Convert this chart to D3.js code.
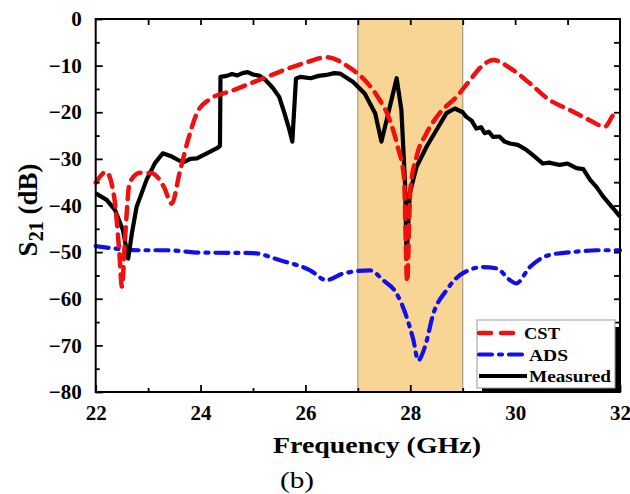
<!DOCTYPE html>
<html>
<head>
<meta charset="utf-8">
<script src="https://cdn.jsdelivr.net/npm/d3@7"></script>
<style>
  body { margin:0; background:#fff; }
</style>
</head>
<body>
<svg></svg>
<script>
// CST simulation
var cstF = [22.0,22.2,22.35,22.45,22.5,22.56,22.65,22.85,23.07,23.3,23.45,23.6,23.76,23.93,24.15,24.62,25.2,25.7,26.1,26.4,26.85,27.13,27.38,27.61,27.76,27.88,27.94,28.0,28.12,28.31,28.56,28.88,29.14,29.33,29.58,29.9,30.28,30.66,31.04,31.42,31.71,31.87,31.92];
var cstV = [-35.1,-32.8,-38,-50,-57.4,-47,-35,-33,-33.1,-36,-39.6,-33,-26,-20.2,-17.4,-15.3,-12.7,-10.5,-9.0,-8.2,-10.5,-13.1,-16.7,-21.7,-27.4,-34,-56.4,-36.7,-29.5,-24.5,-20.2,-16.7,-13.1,-10.5,-8.8,-10.5,-13.8,-17.4,-19.5,-21.7,-23.1,-20.6,-20.0];

// ADS simulation
var adsF = [22.0,22.85,23.35,24.0,25.0,25.5,26.09,26.4,26.72,27.23,27.48,27.74,27.93,28.06,28.15,28.28,28.44,28.69,28.95,29.39,29.65,29.9,30.02,30.28,30.66,31.17,31.55,32.0];
var adsV = [-48.7,-49.6,-49.6,-50.1,-50.2,-51.7,-53.9,-56,-54.6,-53.9,-56,-58.9,-63.9,-68.9,-73.2,-70.3,-63.2,-58.2,-54.9,-53.2,-53.5,-56,-56.7,-53.2,-50.6,-49.9,-49.6,-49.6];

// measured
var measF = [22.0,22.21,22.37,22.52,22.62,22.69,22.78,22.97,23.13,23.28,23.45,23.6,23.7,23.8,23.93,24.12,24.33,24.37,24.38,24.5,24.6,24.7,24.8,24.9,25.0,25.13,25.25,25.38,25.5,25.6,25.7,25.75,25.82,25.9,26.1,26.25,26.4,26.55,26.66,26.91,27.13,27.33,27.45,27.61,27.74,27.83,27.9,27.93,27.99,28.12,28.31,28.5,28.69,28.85,29.0,29.07,29.17,29.26,29.35,29.42,29.5,29.58,29.7,29.8,29.9,30.05,30.22,30.35,30.53,30.65,30.85,31.0,31.17,31.3,31.43,31.55,31.68,31.87,32.0];
var measV = [-37.4,-38.8,-41,-45.3,-51.4,-46,-40.3,-34.5,-30.9,-28.8,-29.5,-30.4,-30.6,-30.0,-29.9,-28.8,-27.6,-27.2,-12.4,-12.2,-11.8,-12.1,-11.6,-11.4,-11.9,-12.2,-13.2,-14.8,-16.7,-20.2,-24,-26.3,-12.8,-12.4,-12.7,-12.2,-12.0,-11.6,-11.7,-13.5,-16,-20.2,-26.3,-18.8,-12.7,-19.5,-35.2,-51.4,-37.4,-31.7,-27.4,-23.8,-20.2,-19.2,-20.0,-21,-21.8,-23.5,-23.2,-24.5,-24.2,-25.3,-25.2,-26.3,-26.7,-27.0,-28.1,-29.3,-31,-30.8,-31.3,-31.0,-32,-32.2,-34.5,-36.0,-38.1,-40.6,-42.4];

var band = [27, 29];
var xTicks = [22,24,26,28,30,32];
var yTicks = [0,-10,-20,-30,-40,-50,-60,-70,-80];
var legendNames = ["CST","ADS","Measured"];

var serif = "Liberation Serif, Times New Roman, serif";

var screen = { width:630, height:494 };
var margins = { top:19, bottom:102, left:95.7, right:10 };
var width = screen.width - margins.left - margins.right;
var height = screen.height - margins.top - margins.bottom;

var svg = d3.select("svg")
            .attr("width",screen.width)
            .attr("height",screen.height);

var xScale = d3.scaleLinear().domain([22,32]).range([0,width]);
var yScale = d3.scaleLinear().domain([-80,0]).range([height,0]);

var plot = svg.append("g")
              .attr("transform","translate("+margins.left+","+margins.top+")");

// shaded band
plot.append("rect")
    .attr("x",xScale(band[0]))
    .attr("y",0)
    .attr("width",xScale(band[1])-xScale(band[0]))
    .attr("height",height)
    .attr("fill","#f8d595")
    .attr("stroke","#a89a86")
    .attr("stroke-width",1.2);

var zip = function(f,v) { return f.map(function(d,i) { return [d,v[i]]; }); };

var smooth = d3.line()
               .x(function(d) {return xScale(d[0])})
               .y(function(d) {return yScale(d[1])})
               .curve(d3.curveMonotoneX);
var straight = d3.line()
                 .x(function(d) {return xScale(d[0])})
                 .y(function(d) {return yScale(d[1])});

var styles = {
  CST: { color:"#f01010", dash:"12,8", w:4.5 },
  ADS: { color:"#1010ee", dash:"13,7,3,7", w:4.2 },
  Measured: { color:"#000", dash:null, w:4.2 }
};

plot.append("path")
    .attr("d",smooth(zip(adsF,adsV)))
    .attr("fill","none")
    .attr("stroke",styles.ADS.color)
    .attr("stroke-width",styles.ADS.w)
    .attr("stroke-dasharray",styles.ADS.dash)
    .attr("stroke-linecap","round");

plot.append("path")
    .attr("d",straight(zip(measF,measV)))
    .attr("fill","none")
    .attr("stroke",styles.Measured.color)
    .attr("stroke-width",styles.Measured.w)
    .attr("stroke-linejoin","round");

plot.append("path")
    .attr("d",smooth(zip(cstF,cstV)))
    .attr("fill","none")
    .attr("stroke",styles.CST.color)
    .attr("stroke-width",styles.CST.w)
    .attr("stroke-dasharray",styles.CST.dash)
    .attr("stroke-linecap","round");

// axes, ticks point inward
var styleAxis = function(g) {
  g.attr("font-family",serif);
  g.select(".domain").remove();
  g.selectAll(".tick line").attr("stroke","#000").attr("stroke-width",1.8);
  g.selectAll("text")
   .attr("font-family",serif)
   .attr("font-size","21px")
   .attr("font-weight","bold")
   .attr("fill","#000");
};

plot.append("g")
    .attr("transform","translate(0,"+height+")")
    .call(d3.axisBottom(xScale).tickValues(xTicks).tickSize(-7).tickPadding(13).tickFormat(d3.format("d")))
    .call(styleAxis);
plot.append("g")
    .attr("transform","translate(0,"+height+")")
    .call(d3.axisBottom(xScale).tickValues([23,25,27,29,31]).tickSize(-4).tickFormat(""))
    .call(styleAxis);
plot.append("g")
    .call(d3.axisTop(xScale).tickValues(d3.range(23,32,1)).tickSize(-6).tickFormat(""))
    .call(styleAxis);

plot.append("g")
    .call(d3.axisLeft(yScale).tickValues(yTicks).tickSize(-7).tickPadding(14).tickFormat(d3.format("d")))
    .call(styleAxis);
plot.append("g")
    .call(d3.axisLeft(yScale).tickValues(d3.range(-75,0,10)).tickSize(-4).tickFormat(""))
    .call(styleAxis);
plot.append("g")
    .attr("transform","translate("+width+",0)")
    .call(d3.axisRight(yScale).tickValues(d3.range(-75,0,5)).tickSize(-6).tickFormat(""))
    .call(styleAxis);

plot.append("rect")
    .attr("width",width)
    .attr("height",height)
    .attr("fill","none")
    .attr("stroke","#000")
    .attr("stroke-width",2);

// legend
var legend = plot.append("g")
                 .attr("transform","translate("+(width-143)+","+(height-72)+")");
legend.append("rect")
      .attr("x",5).attr("y",7)
      .attr("width",138).attr("height",65)
      .attr("fill","#000");
legend.append("rect")
      .attr("x",0).attr("y",0)
      .attr("width",138).attr("height",68)
      .attr("fill","#fff")
      .attr("stroke","#999")
      .attr("stroke-width",1);

var legendLines = legend.selectAll("g.item")
                        .data(legendNames)
                        .enter()
                        .append("g")
                        .attr("transform",function(d,i) {return "translate(0,"+(13+i*21.5)+")"});
legendLines.append("line")
           .attr("x1",2).attr("x2",function(d) {return d=="CST" ? 38 : 50})
           .attr("y1",0).attr("y2",0)
           .attr("stroke",function(d) {return styles[d].color})
           .attr("stroke-width",function(d) {return styles[d].w})
           .attr("stroke-dasharray",function(d) {return d=="CST" ? "12,10" : (d=="ADS" ? "13,7,3,7" : null)})
           .attr("stroke-linecap",function(d) {return d=="Measured" ? "butt" : "round"});
legendLines.append("text")
           .attr("x",function(d) {return d=="CST" ? 47 : 52})
           .attr("y",6)
           .attr("font-family",serif)
           .attr("font-size","17px")
           .attr("font-weight","bold")
           .attr("textLength",function(d) {return d=="CST" ? 36 : (d=="ADS" ? 39 : 82)})
           .attr("lengthAdjust","spacingAndGlyphs")
           .text(function(d) {return d});

// axis titles
svg.append("text")
   .attr("x",377).attr("y",453)
   .attr("text-anchor","middle")
   .attr("font-family",serif)
   .attr("font-size","24px")
   .attr("font-weight","bold")
   .attr("textLength",208)
   .attr("lengthAdjust","spacingAndGlyphs")
   .text("Frequency (GHz)");

var ylab = svg.append("text")
              .attr("transform","translate(37,210) rotate(-90)")
              .attr("text-anchor","middle")
              .attr("font-family",serif)
              .attr("font-size","27px")
              .attr("font-weight","bold");
ylab.append("tspan").text("S");
ylab.append("tspan").attr("font-size","20px").attr("dy",6).text("21");
ylab.append("tspan").attr("dy",-6).text(" (dB)");

svg.append("text")
   .attr("x",297).attr("y",488)
   .attr("text-anchor","middle")
   .attr("font-family",serif)
   .attr("font-size","24px")
   .attr("textLength",34)
   .attr("lengthAdjust","spacingAndGlyphs")
   .text("(b)");
</script>
</body>
</html>
